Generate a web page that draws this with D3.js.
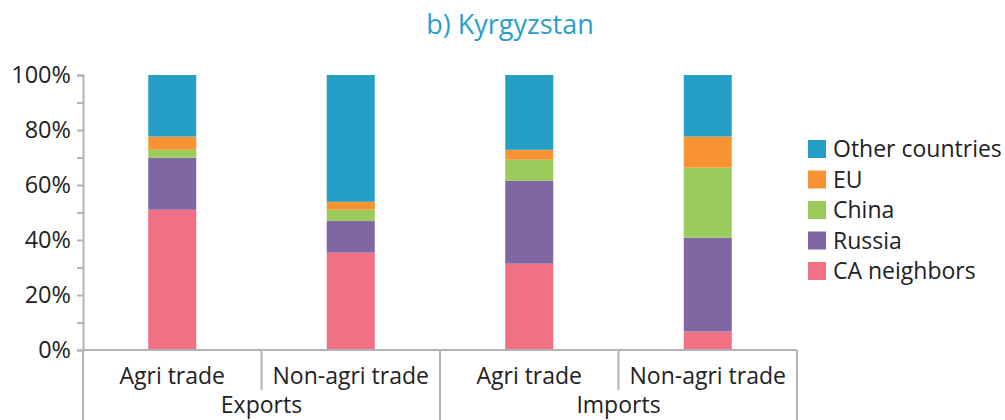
<!DOCTYPE html>
<html>
<head>
<meta charset="utf-8">
<script src="https://cdn.jsdelivr.net/npm/d3@7"></script>
<style>
  body { margin: 0; background: white; }
  svg { font-family: "Open Sans", sans-serif; }
</style>
</head>
<body>
<div id="chart"></div>
<script>
"use strict"

const groups = ["Exports", "Exports", "Imports", "Imports"]
const categories = ["Agri trade", "Non-agri trade", "Agri trade", "Non-agri trade"]
const series = ["CA neighbors", "Russia", "China", "EU", "Other countries"]
const caNeighbors = [51.0, 35.4, 31.4, 6.7]
const russia = [18.9, 11.5, 30.2, 34.1]
const china = [2.9, 4.1, 7.6, 25.5]
const eu = [4.8, 2.9, 3.6, 11.3]
const other = [22.4, 46.1, 27.2, 22.4]
const colors = ["#f07084", "#8066a3", "#9bcb5a", "#f79332", "#259ec6"]
const yTicks = [0, 20, 40, 60, 80, 100]

const width = 1005, height = 420
const margin = {top: 75, right: 208, bottom: 70, left: 83}

const svg = d3.select("#chart").append("svg")
  .attr("width", width)
  .attr("height", height)

const rows = categories.map((c, i) => ({
  key: i,
  "CA neighbors": caNeighbors[i],
  "Russia": russia[i],
  "China": china[i],
  "EU": eu[i],
  "Other countries": other[i],
}))

const stacked = d3.stack().keys(series)(rows)

const x = d3.scaleBand()
  .domain(d3.range(categories.length))
  .range([margin.left, width - margin.right])
  .paddingInner(0)

const y = d3.scaleLinear()
  .domain([0, 100])
  .range([height - margin.bottom, margin.top])

const barW = 48
const axisColor = "#b3b3b5"
const textColor = "#222"

// title
svg.append("text")
  .attr("x", 510)
  .attr("y", 34)
  .attr("text-anchor", "middle")
  .attr("fill", "#2a9fc9")
  .style("font-size", "27px")
  .text("b) Kyrgyzstan")

// bars
svg.append("g")
  .selectAll("g")
  .data(stacked)
  .join("g")
    .attr("fill", (d, i) => colors[i])
  .selectAll("rect")
  .data(d => d)
  .join("rect")
    .attr("x", (d, i) => x(i) + x.bandwidth() / 2 - barW / 2)
    .attr("y", d => y(d[1]))
    .attr("width", barW)
    .attr("height", d => y(d[0]) - y(d[1]))

// y axis
const yAxis = d3.axisLeft(y)
  .tickValues(d3.range(0, 101, 10))
  .tickSize(6)
  .tickFormat(d => yTicks.includes(d) ? d + "%" : "")

svg.append("g")
  .attr("transform", `translate(${margin.left},0)`)
  .call(yAxis)
  .call(g => g.select(".domain").attr("stroke", axisColor).attr("stroke-width", 2))
  .call(g => g.selectAll(".tick line").attr("stroke", axisColor).attr("stroke-width", 2))
  .call(g => g.selectAll(".tick text")
    .attr("x", -12)
    .attr("fill", textColor)
    .style("font-size", "23.5px")
    .style("font-family", "'Open Sans', sans-serif"))

// x axis with grouped labels
const y0 = y(0)
const xg = svg.append("g")
xg.append("line")
  .attr("x1", margin.left).attr("x2", width - margin.right)
  .attr("y1", y0).attr("y2", y0)
  .attr("stroke", axisColor).attr("stroke-width", 2)

d3.range(categories.length + 1).forEach(i => {
  const xx = i < categories.length ? x(i) : x(i - 1) + x.bandwidth()
  const outer = i % 2 === 0
  xg.append("line")
    .attr("x1", xx).attr("x2", xx)
    .attr("y1", y0).attr("y2", outer ? height : y0 + 40)
    .attr("stroke", axisColor).attr("stroke-width", 2)
})

xg.selectAll("text.cat")
  .data(categories)
  .join("text")
    .attr("class", "cat")
    .attr("x", (d, i) => x(i) + x.bandwidth() / 2)
    .attr("y", y0 + 34)
    .attr("text-anchor", "middle")
    .attr("fill", textColor)
    .style("font-size", "23px")
    .text(d => d)

const groupNames = Array.from(new Set(groups))
xg.selectAll("text.grp")
  .data(groupNames)
  .join("text")
    .attr("class", "grp")
    .attr("x", g => {
      const idx = groups.map((d, i) => d === g ? i : -1).filter(i => i >= 0)
      return (x(idx[0]) + x(idx[idx.length - 1]) + x.bandwidth()) / 2
    })
    .attr("y", y0 + 63)
    .attr("text-anchor", "middle")
    .attr("fill", textColor)
    .style("font-size", "23px")
    .text(d => d)

// legend
const legend = svg.append("g")
  .attr("transform", "translate(808,149)")
const legendItems = series.slice().reverse()
legend.selectAll("g")
  .data(legendItems)
  .join("g")
    .attr("transform", (d, i) => `translate(0,${i * 30.5})`)
    .call(g => g.append("rect")
      .attr("x", 0).attr("y", -9)
      .attr("width", 18).attr("height", 18)
      .attr("fill", d => colors[series.indexOf(d)]))
    .call(g => g.append("text")
      .attr("x", 25).attr("y", 8)
      .attr("fill", textColor)
      .style("font-size", "23px")
      .text(d => d))
</script>
</body>
</html>
